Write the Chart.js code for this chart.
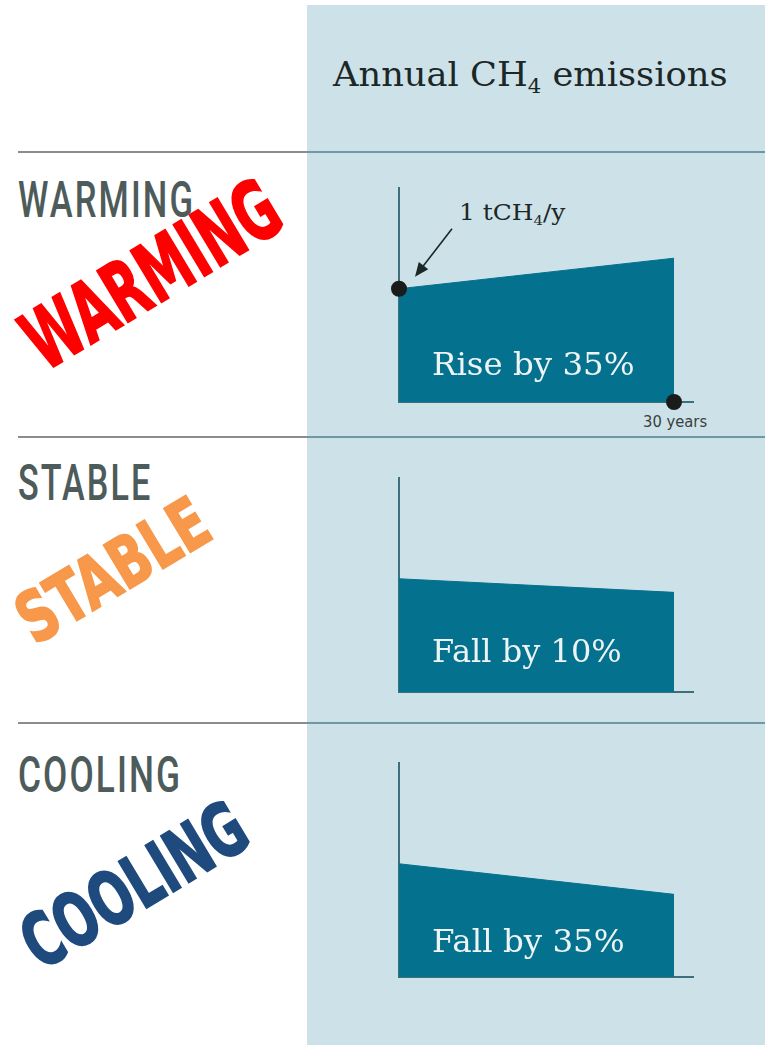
<!DOCTYPE html>
<html>
<head>
<meta charset="utf-8">
<script src="https://cdn.jsdelivr.net/npm/chart.js@4.4.0/dist/chart.umd.min.js"></script>
<style>
  body { margin: 0; background: #fff; }
  #page { position: relative; width: 765px; height: 1045px; overflow: hidden; background: #fff; }
  .abs { position: absolute; white-space: nowrap; line-height: 1; }
  .panel { position: absolute; left: 307px; top: 5px; width: 458px; height: 1040px; background: #cde2e8; }
  .sep { position: absolute; height: 2px; }
  .chartbox { position: absolute; left: 379px; width: 334px; height: 254px; }
  .serif { font-family: "DejaVu Serif", serif; }
  sub { font-size: 0.6em; vertical-align: -0.35em; line-height: 0; }
</style>
</head>
<body>
<div id="page">
  <div class="panel"></div>

  <div class="sep" style="left:18px;width:289px;top:151px;background:#8c8c8c"></div>
  <div class="sep" style="left:307px;width:458px;top:151px;background:#6e98a3"></div>
  <div class="sep" style="left:18px;width:289px;top:436px;background:#8c8c8c"></div>
  <div class="sep" style="left:307px;width:458px;top:436px;background:#6e98a3"></div>
  <div class="sep" style="left:18px;width:289px;top:722px;background:#8c8c8c"></div>
  <div class="sep" style="left:307px;width:458px;top:722px;background:#6e98a3"></div>

  <div id="header" class="abs serif" style="color:#1c2727">Annual CH<sub>4</sub> emissions</div>
  <div id="unit" class="abs serif" style="color:#1c2727">1 tCH<sub>4</sub>/y</div>
  <div id="span" class="abs" style="font-family:'DejaVu Sans';color:#3a3f40">30 years</div>

  <div class="chartbox" style="top:168px"><canvas id="c0" width="334" height="254"></canvas></div>
  <div class="chartbox" style="top:458px"><canvas id="c1" width="334" height="254"></canvas></div>
  <div class="chartbox" style="top:743px"><canvas id="c2" width="334" height="254"></canvas></div>
</div>
<script>
// values: emissions relative to year 0
const years = [0, 30];
const warming = [1, 1.27];
const stable = [1, 0.88];
const cooling = [1, 0.73];
const markerYears = [0, 30];
const markerValues = [1, 0];
const rowLabels = ['WARMING', 'STABLE', 'COOLING'];
const changeLabels = ['Rise by 35%', 'Fall by 10%', 'Fall by 35%'];
const stampColors = ['#ff0000', '#f7984a', '#1f4a7d'];

const fill = '#04718e';
const axisColor = '#3d6f7d';
const page = document.getElementById('page');

// put a text on a baseline and squeeze it to a width
function placeText(el, x, baseline, fs, w) {
  el.style.fontSize = fs + 'px';
  el.style.left = x + 'px';
  el.style.top = (baseline - 0.846 * fs) + 'px';
  el.style.transformOrigin = '0 0';
  const k = w / el.offsetWidth;
  el.style.transform = 'scaleX(' + k + ')';
}

function addText(txt, cls, style) {
  const el = document.createElement('div');
  el.className = 'abs ' + cls;
  el.textContent = txt;
  Object.assign(el.style, style);
  page.appendChild(el);
  return el;
}

placeText(document.getElementById('header'), 333, 86, 34, 395);
placeText(document.getElementById('unit'), 459, 220, 23, 106);
placeText(document.getElementById('span'), 643, 428, 15, 64);

// row labels on the left
const labelBase = [217, 500, 792];
const labelWidth = [177, 134, 164];
rowLabels.forEach((t, i) => {
  const el = addText(t, '', { fontFamily: 'Roboto, sans-serif', fontWeight: '500', color: '#4d5b5b', letterSpacing: '3px' });
  placeText(el, 18, labelBase[i], 50, labelWidth[i]);
});

// slanted stamps over the labels
const stampCenter = [[152, 272], [113, 568], [134, 882]];
const stampLen = [284, 211, 249];
const stampH = [60, 51, 54];
rowLabels.forEach((t, i) => {
  const el = addText(t, '', {
    fontFamily: '"DejaVu Sans", sans-serif', fontWeight: 'bold', color: stampColors[i],
    webkitTextStroke: '2px ' + stampColors[i]
  });
  const fs = stampH[i] / 0.729;
  el.style.fontSize = fs + 'px';
  const k = stampLen[i] / el.offsetWidth;
  el.style.left = stampCenter[i][0] + 'px';
  el.style.top = stampCenter[i][1] + 'px';
  el.style.transform = 'translate(-50%,-46%) rotate(-31deg) scaleX(' + k + ')';
});

// labels inside the areas
const changeBase = [375, 662, 952];
const changeWidth = [202, 190, 193];
changeLabels.forEach((t, i) => {
  const el = addText(t, 'serif', { color: '#eef4f4' });
  placeText(el, 432, changeBase[i], 31, changeWidth[i]);
});

const arrowPlugin = {
  id: 'arrow',
  afterDatasetsDraw(chart, args, opts) {
    if (!opts.show) return;
    const ctx = chart.ctx;
    const px = chart.scales.x.getPixelForValue(markerYears[0]);
    const py = chart.scales.y.getPixelForValue(markerValues[0]);
    const tip = [px + 16, py - 12], tail = [px + 53, py - 60];
    const ang = Math.atan2(tip[1] - tail[1], tip[0] - tail[0]);
    ctx.save();
    ctx.strokeStyle = '#1c2727';
    ctx.fillStyle = '#1c2727';
    ctx.lineWidth = 1.6;
    ctx.beginPath();
    ctx.moveTo(tail[0], tail[1]);
    ctx.lineTo(tip[0] - 10 * Math.cos(ang), tip[1] - 10 * Math.sin(ang));
    ctx.stroke();
    ctx.beginPath();
    ctx.moveTo(tip[0], tip[1]);
    ctx.lineTo(tip[0] - 14 * Math.cos(ang) + 6 * Math.sin(ang), tip[1] - 14 * Math.sin(ang) - 6 * Math.cos(ang));
    ctx.lineTo(tip[0] - 14 * Math.cos(ang) - 6 * Math.sin(ang), tip[1] - 14 * Math.sin(ang) + 6 * Math.cos(ang));
    ctx.closePath();
    ctx.fill();
    ctx.restore();
  }
};

function makeChart(id, values, withMarkers) {
  const datasets = [{
    data: years.map((x, i) => ({ x: x, y: values[i] })),
    fill: 'origin',
    backgroundColor: fill,
    borderColor: fill,
    borderWidth: 1,
    pointRadius: 0,
    tension: 0,
    order: 2
  }];
  if (withMarkers) {
    datasets.push({
      data: markerYears.map((x, i) => ({ x: x, y: markerValues[i] })),
      showLine: false,
      pointRadius: 8,
      pointBackgroundColor: '#1a1c1c',
      pointBorderWidth: 0,
      clip: false,
      order: 0
    });
  }
  return new Chart(document.getElementById(id), {
    type: 'line',
    data: { datasets: datasets },
    options: {
      responsive: false,
      animation: false,
      devicePixelRatio: 1,
      layout: { padding: 20 },
      plugins: { legend: { display: false }, tooltip: { enabled: false }, arrow: { show: withMarkers } },
      scales: {
        x: {
          type: 'linear', min: 0, max: 32.07,
          grid: { display: false }, ticks: { display: false },
          border: { display: true, color: axisColor, width: 2 },
          afterFit(s) { s.height = 0; }
        },
        y: {
          min: 0, max: 1.89,
          grid: { display: false }, ticks: { display: false },
          border: { display: true, color: axisColor, width: 2 },
          afterFit(s) { s.width = 0; }
        }
      }
    },
    plugins: [arrowPlugin]
  });
}

makeChart('c0', warming, true);
makeChart('c1', stable, false);
makeChart('c2', cooling, false);
</script>
</body>
</html>
